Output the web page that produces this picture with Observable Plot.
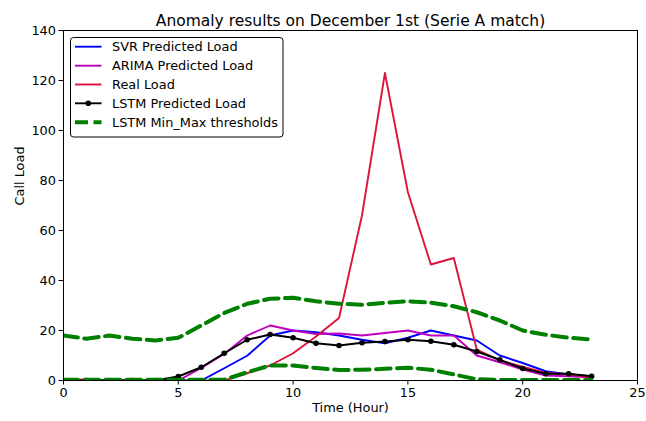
<!DOCTYPE html>
<html>
<head>
<meta charset="utf-8">
<script src="https://cdn.jsdelivr.net/npm/d3@7"></script>
<script src="https://cdn.jsdelivr.net/npm/@observablehq/plot@0.6"></script>
<style>
  html, body { margin: 0; padding: 0; background: white; }
  #chart { width: 646px; height: 421px; }
</style>
</head>
<body>
<div id="chart"></div>
<script>
const title = "Anomaly results on December 1st (Serie A match)";
const xLabel = "Time (Hour)";
const yLabel = "Call Load";
const xTicks = [0, 5, 10, 15, 20, 25];
const yTicks = [0, 20, 40, 60, 80, 100, 120, 140];

const hours = [0,1,2,3,4,5,6,7,8,9,10,11,12,13,14,15,16,17,18,19,20,21,22,23];
const svrLoad   = [0,0,0,0,0,0,0,4.9,9.9,18,20,19.3,18,16.3,14.9,17.1,20,18,16,10,7,3.7,2.4,1.7];
const arimaLoad = [0,0,0,0,0,0,5,10.6,18,22,20,18.6,18.8,18,19,20,18,18,10,7.3,4.4,2,1.7,1.3];
const realLoad  = [0.5,0.3,0,0,0,0,0,0,2.9,6,10.9,17.6,25,66,123,75.3,46.4,49,12.4,8,5.5,3,2.5,1.3];
const lstmLoad  = [0,0,0,0,0,1.6,5.3,10.9,16.3,18.4,17.1,14.9,14,15.1,15.6,16.3,15.7,14.3,11.6,8.3,4.8,2.7,2.7,1.7];
const maxThreshold = [18,16.7,18,16.7,16,17.1,22,27,30.7,32.7,33.1,31.7,30.7,30.3,31.1,31.7,31.1,29.7,27.3,24,20,18.3,17.1,16.4];
const minThreshold = [0.3,0.3,0.3,0.3,0.3,0.3,0.3,0.3,3.3,6,6,5,4.2,4.3,4.7,5.1,4.3,2.4,0.5,0.2,0.2,0.2,0.2,0.2];

const seriesNames = ["SVR Predicted Load", "ARIMA Predicted Load", "Real Load", "LSTM Predicted Load", "LSTM Min_Max thresholds"];
const seriesColors = ["#0000ff", "#bf00bf", "#dc143c", "#000000", "#008000"];

const thin = 1.9;
const dash = "14.5,6.5";
const thick = 4;

const plot = Plot.plot({
  width: 646,
  height: 421,
  marginLeft: 63,
  marginRight: 9,
  marginTop: 30,
  marginBottom: 41,
  style: { fontFamily: "DejaVu Sans, sans-serif", fontSize: "12.9px", background: "white", color: "black" },
  x: { domain: [0, 25] },
  y: { domain: [0, 140] },
  marks: [
    Plot.lineY(svrLoad, { x: hours, stroke: seriesColors[0], strokeWidth: thin, clip: true }),
    Plot.lineY(arimaLoad, { x: hours, stroke: seriesColors[1], strokeWidth: thin, clip: true }),
    Plot.lineY(realLoad, { x: hours, stroke: seriesColors[2], strokeWidth: thin, clip: true }),
    Plot.lineY(lstmLoad, { x: hours, stroke: seriesColors[3], strokeWidth: thin, clip: true }),
    Plot.dotY(lstmLoad, { x: hours, fill: seriesColors[3], r: 2.8, clip: true }),
    Plot.lineY(maxThreshold, { x: hours, stroke: seriesColors[4], strokeWidth: thick, strokeDasharray: dash, clip: true }),
    Plot.lineY(minThreshold, { x: hours, stroke: seriesColors[4], strokeWidth: thick, strokeDasharray: dash, clip: true }),
    Plot.frame({ stroke: "black", strokeWidth: 1 }),
    Plot.axisX({ ticks: xTicks, tickSize: 4.5, tickPadding: 3, label: null, stroke: "black" }),
    Plot.axisY({ ticks: yTicks, tickSize: 4.5, tickPadding: 3, label: null, stroke: "black" }),
    Plot.text([title], { frameAnchor: "top", dy: -16, fontSize: 15.5, text: d => d }),
    Plot.text([xLabel], { frameAnchor: "bottom", dy: 31, text: d => d }),
    Plot.text([yLabel], { frameAnchor: "left", dx: -44, rotate: -90, text: d => d })
  ]
});

document.getElementById("chart").appendChild(plot);

// Legend
const svg = d3.select(plot);
const lg = svg.append("g")
  .attr("font-family", "DejaVu Sans, sans-serif")
  .attr("font-size", "12.9px")
  .attr("text-anchor", "start");
lg.append("rect")
  .attr("x", 70.5).attr("y", 37.5).attr("width", 212.5).attr("height", 99.5)
  .attr("rx", 3).attr("fill", "white").attr("stroke", "black").attr("stroke-width", 1);
const rowY = [46.7, 65.7, 84.5, 103.3, 122.3];
seriesNames.forEach((name, i) => {
  const y = rowY[i];
  const isDash = i === 4;
  lg.append("line")
    .attr("x1", 75).attr("x2", 101.5).attr("y1", y).attr("y2", y)
    .attr("stroke", seriesColors[i])
    .attr("stroke-width", isDash ? thick : thin)
    .attr("stroke-dasharray", isDash ? "13,5.5" : null);
  if (i === 3) {
    lg.append("circle").attr("cx", 88.3).attr("cy", y).attr("r", 2.8).attr("fill", "black");
  }
  lg.append("text")
    .attr("x", 112).attr("y", y).attr("dy", "0.35em")
    .attr("text-anchor", "start").attr("fill", "black").text(name);
});
</script>
</body>
</html>
